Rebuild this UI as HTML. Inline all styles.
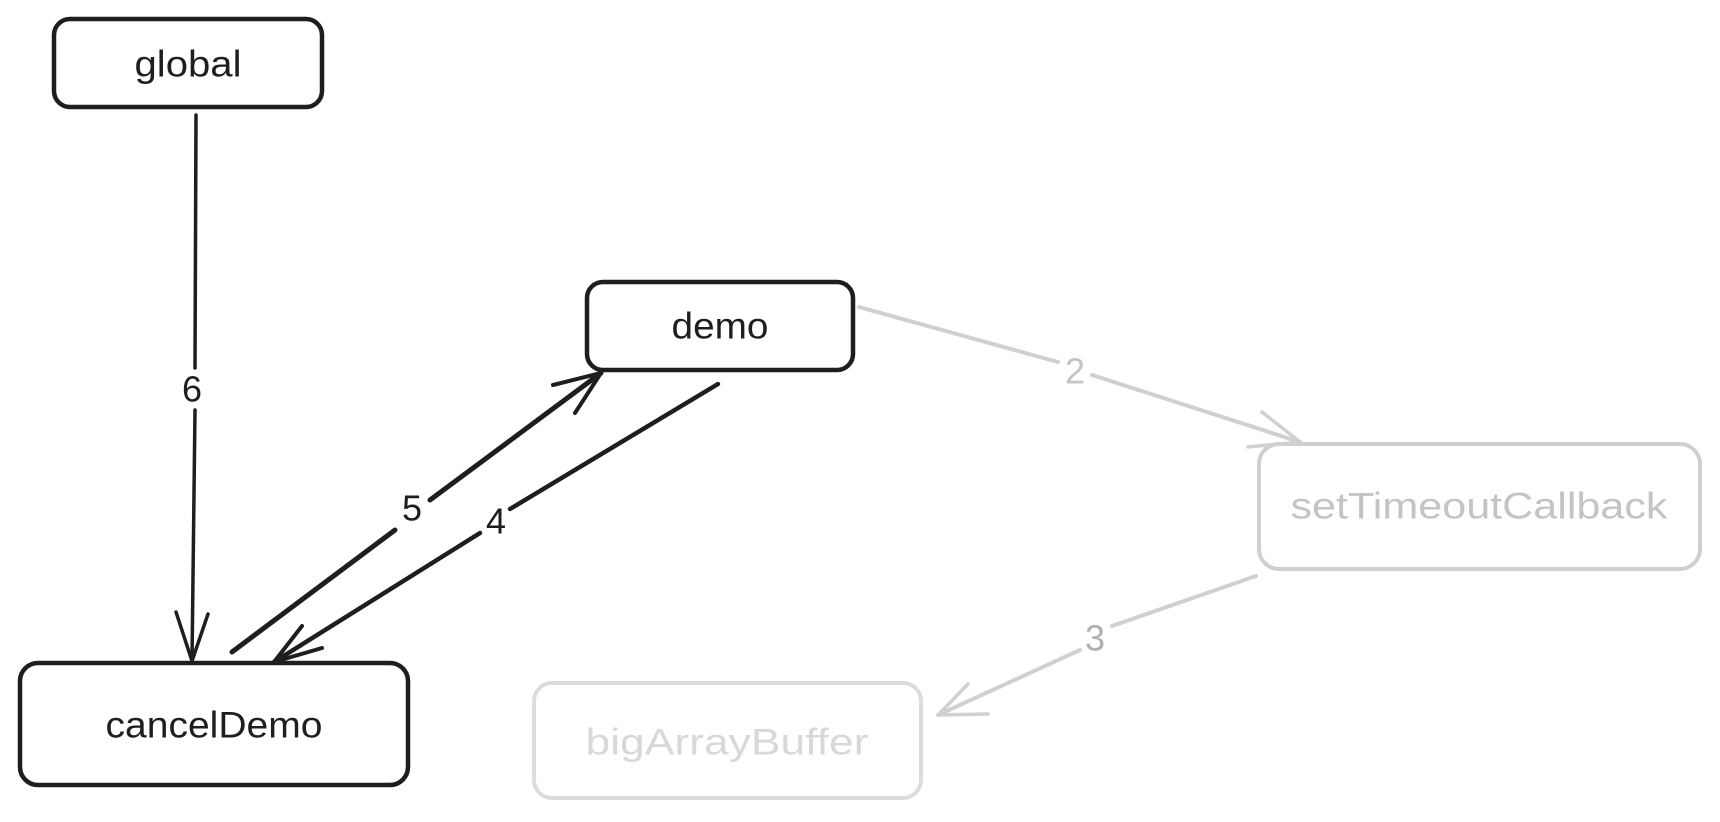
<!DOCTYPE html>
<html><head><meta charset="utf-8"><style>
html,body{margin:0;padding:0;background:#fff;width:1720px;height:822px;overflow:hidden}
svg text{font-family:"Liberation Sans",sans-serif;text-anchor:middle;dominant-baseline:central}
</style></head><body>
<svg width="1720" height="822" viewBox="0 0 1720 822" xmlns="http://www.w3.org/2000/svg">
<g fill="none" stroke-linecap="round" stroke-linejoin="round">
<rect x="54" y="19" width="268" height="88" rx="16" stroke="#1e1e1e" stroke-width="4.5"/>
<rect x="587" y="282" width="266" height="88" rx="16" stroke="#1e1e1e" stroke-width="4.5"/>
<rect x="20" y="663" width="388" height="122" rx="18" stroke="#1e1e1e" stroke-width="4.5"/>
<rect x="1259" y="444" width="441" height="125" rx="20" stroke="#cfcfcf" stroke-width="4"/>
<rect x="534" y="683" width="387" height="115" rx="18" stroke="#dcdcdc" stroke-width="4"/>
<path d="M196 115 L195 368 M195 410 L192 661" stroke="#1e1e1e" stroke-width="3.5"/>
<path d="M176 612 L192 661 L208 614" stroke="#1e1e1e" stroke-width="3.5"/>
<path d="M232 652 L395 530 M430 500 L601 373" stroke="#1e1e1e" stroke-width="5"/>
<path d="M553 385 L601 373 L575 413" stroke="#1e1e1e" stroke-width="4"/>
<path d="M718 384 L510 509 M480 533 L274 662" stroke="#1e1e1e" stroke-width="4.5"/>
<path d="M322 648 L274 662 L302 626" stroke="#1e1e1e" stroke-width="4"/>
<path d="M859 307 L1058 362 M1092 375 L1300 442" stroke="#d0d0d0" stroke-width="4"/>
<path d="M1248 447 L1300 442 L1262 412" stroke="#d0d0d0" stroke-width="3.5"/>
<path d="M1256 576 L1112 626 M1080 650 L938 715" stroke="#d0d0d0" stroke-width="4"/>
<path d="M988 714 L938 715 L968 684" stroke="#d0d0d0" stroke-width="3.5"/>
</g>
<g font-size="37" fill="#1e1e1e">
<text x="188" y="64" textLength="107" lengthAdjust="spacingAndGlyphs">global</text>
<text x="720" y="326" textLength="97" lengthAdjust="spacingAndGlyphs">demo</text>
<text x="214" y="725" textLength="217" lengthAdjust="spacingAndGlyphs">cancelDemo</text>
<text x="1479" y="506" fill="#c4c4c4" textLength="377" lengthAdjust="spacingAndGlyphs">setTimeoutCallback</text>
<text x="727" y="742" fill="#d8d8d8" textLength="283" lengthAdjust="spacingAndGlyphs">bigArrayBuffer</text>
</g>
<g font-size="36">
<text x="192" y="389" fill="#1e1e1e">6</text>
<text x="412" y="508" fill="#1e1e1e">5</text>
<text x="496" y="521" fill="#1e1e1e">4</text>
<text x="1075" y="371" fill="#c4c4c4">2</text>
<text x="1095" y="638" fill="#b0b0b0">3</text>
</g>
</svg>
</body></html>
